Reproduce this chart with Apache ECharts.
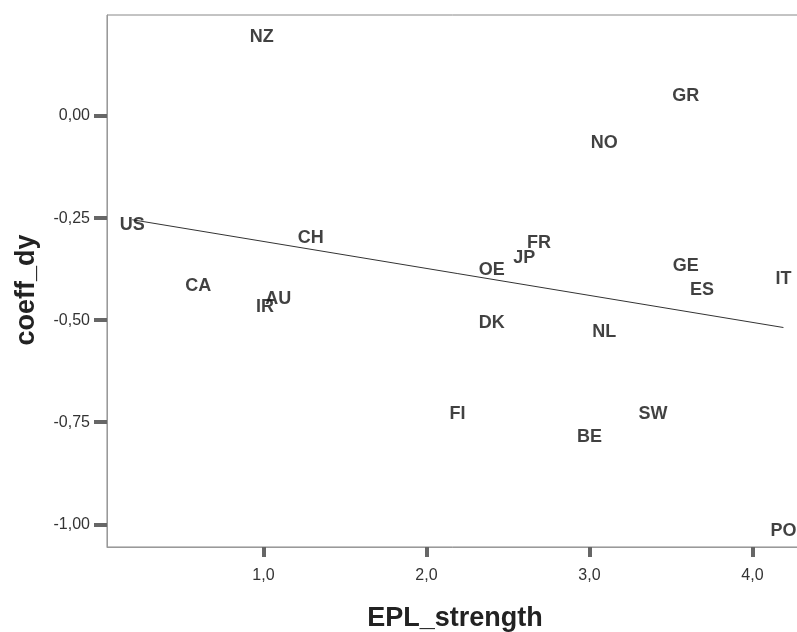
<!DOCTYPE html>
<html>
<head>
<meta charset="utf-8">
<script src="https://cdn.jsdelivr.net/npm/echarts@6/dist/echarts.min.js"></script>
<style>
  html, body { margin: 0; padding: 0; background: #fff; }
  #chart { width: 797px; height: 632px; }
</style>
</head>
<body>
<div id="chart"></div>
<script>
// Country codes and their values (EPL_strength, coeff_dy)
var countries = ['NZ', 'US', 'CH', 'CA', 'AU', 'IR', 'GR', 'NO', 'FR', 'JP', 'OE',
                 'GE', 'ES', 'IT', 'DK', 'NL', 'FI', 'SW', 'BE', 'PO'];
var eplStrength = [0.99, 0.195, 1.29, 0.60, 1.09, 1.01, 3.59, 3.09, 2.69, 2.60, 2.40,
                   3.59, 3.69, 4.19, 2.40, 3.09, 2.19, 3.39, 3.00, 4.19];
var coeffDy = [0.194, -0.267, -0.300, -0.417, -0.449, -0.467, 0.050, -0.067, -0.310, -0.349, -0.376,
               -0.367, -0.425, -0.400, -0.508, -0.529, -0.729, -0.729, -0.786, -1.017];

// Fit line end points
var fitX = [0.195, 4.19];
var fitY = [-0.254, -0.518];

var xTicks = [1, 2, 3, 4];
var yTicks = [-1, -0.75, -0.5, -0.25, 0];

var chart = echarts.init(document.getElementById('chart'), null, { renderer: 'canvas' });

var points = countries.map(function (c, i) {
  return { name: c, value: [eplStrength[i], coeffDy[i]] };
});
var fitLine = fitX.map(function (x, i) { return [x, fitY[i]]; });

var option = {
  backgroundColor: '#fff',
  animation: false,
  textStyle: { fontFamily: 'Liberation Sans, Arial, sans-serif' },
  grid: {
    left: 107, top: 15, right: -6, bottom: 85,
    outerBoundsMode: 'none',
    containLabel: false,
    show: true, borderColor: '#888', borderWidth: 1, backgroundColor: 'transparent'
  },
  xAxis: {
    type: 'value',
    min: 0.04, max: 4.31,
    name: 'EPL_strength',
    nameLocation: 'middle',
    nameGap: 58,
    nameTextStyle: { fontSize: 27, fontWeight: 'bold', color: '#222' },
    axisLine: { show: true, onZero: false, lineStyle: { color: '#999', width: 1 } },
    axisTick: { show: true, length: 10, customValues: xTicks, lineStyle: { color: '#666', width: 4 } },
    axisLabel: {
      customValues: xTicks, margin: 21, fontSize: 16, color: '#333',
      formatter: function (v) { return v.toFixed(1).replace('.', ','); }
    },
    splitLine: { show: false }
  },
  yAxis: {
    type: 'value',
    min: -1.0556, max: 0.2475,
    name: 'coeff_dy',
    nameLocation: 'middle',
    nameGap: 67,
    nameTextStyle: { fontSize: 27, fontWeight: 'bold', color: '#222', padding: [0, 18, 0, 0] },
    axisLine: { show: true, onZero: false, lineStyle: { color: '#999', width: 1 } },
    axisTick: { show: true, length: 13, customValues: yTicks, lineStyle: { color: '#666', width: 4 } },
    axisLabel: {
      customValues: yTicks, margin: 17, fontSize: 16, color: '#333',
      formatter: function (v) { return v.toFixed(2).replace('.', ','); }
    },
    splitLine: { show: false }
  },
  series: [
    {
      type: 'line',
      data: fitLine,
      symbol: 'none',
      lineStyle: { color: '#333', width: 1 },
      z: 1
    },
    {
      type: 'scatter',
      data: points,
      symbolSize: 1,
      itemStyle: { color: 'rgba(0,0,0,0)' },
      label: {
        show: true,
        position: 'inside',
        formatter: '{b}',
        fontSize: 18,
        fontWeight: 'bold',
        color: '#111',
        textBorderWidth: 0
      },
      z: 2
    }
  ]
};

chart.setOption(option);
</script>
</body>
</html>
